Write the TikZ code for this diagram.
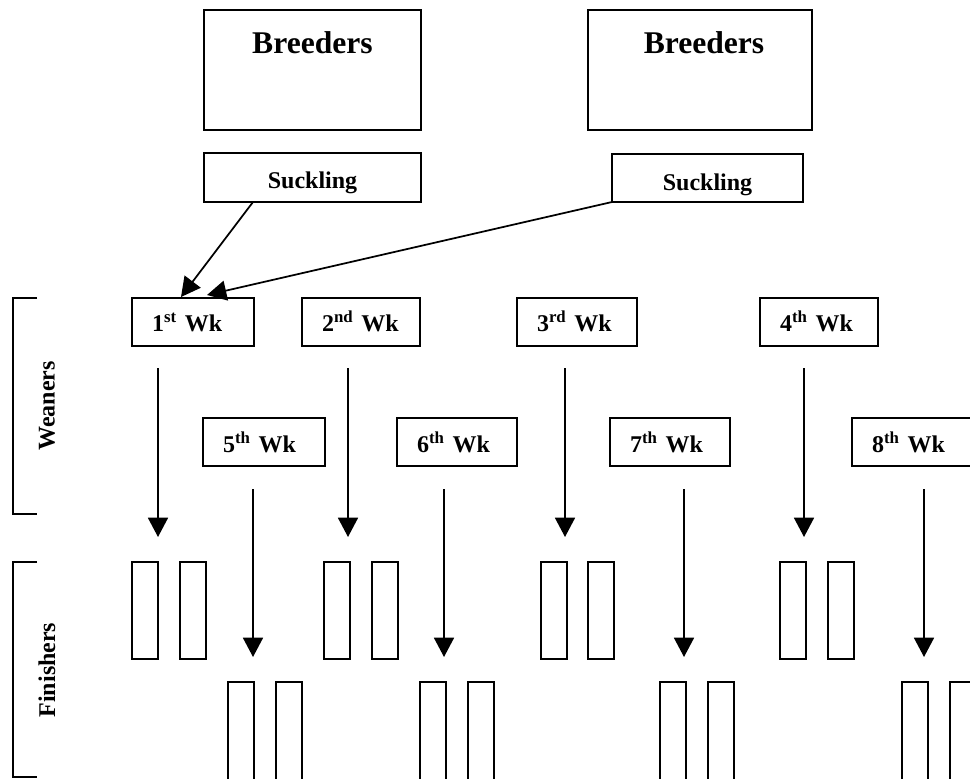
\documentclass[tikz,border=0pt]{standalone}
\usepackage{fontspec}
\setmainfont{Liberation Serif}
\usetikzlibrary{arrows.meta,calc}
\tikzset{
  pen/.style={draw, line width=1.3pt},
  box/.style={pen, inner sep=0pt, outer sep=0pt, anchor=north west, font=\fontsize{18}{20}\selectfont\bfseries},
  brbox/.style={box, text width=162.75pt, align=center, text height=32.25pt, text depth=57.75pt, font=\fontsize{23.7}{28}\selectfont\bfseries},
  wkone/.style={box, inner xsep=15pt, align=left, text height=24.75pt, text depth=11.25pt},
  wktwo/.style={box, inner xsep=15pt, align=left, text height=25.5pt, text depth=10.5pt},
  pen box/.style={pen, inner sep=0pt, outer sep=0pt, anchor=north west, minimum width=19.5pt},
  penone/.style={pen box, minimum height=72.75pt},
  pentwo/.style={pen box, minimum height=81pt},
  arr/.style={line width=1.3pt, -{Triangle[width=15pt,length=14.5pt]}},
  lab/.style={font=\fontsize{18}{20}\selectfont\bfseries, inner sep=0pt, rotate=90}
}
\begin{document}
\begin{tikzpicture}[x=0.75pt, y=-0.75pt]
\useasboundingbox (0,0) rectangle (970,778);
\clip (0,0) rectangle (970,778);
% breeders
\node[brbox] (b1) at (204,10) {Breeders};
\node[brbox, text width=168pt] (b2) at (588,10) {\hspace*{6pt}Breeders};
% suckling
\node[box, text width=162.75pt, align=center, text height=26.25pt, text depth=10.5pt] (s1) at (204,153) {Suckling};
\node[box, text width=143.25pt, align=center, text height=27pt, text depth=9pt] (s2) at (612,154) {Suckling};
% weeks row 1
\node[wkone, text width=61.5pt] (w1) at (132,298) {1\textsuperscript{st} Wk};
\node[wkone, text width=58.5pt] (w2) at (302,298) {2\textsuperscript{nd} Wk};
\node[wkone, text width=60pt] (w3) at (517,298) {3\textsuperscript{rd} Wk};
\node[wkone, text width=58.5pt] (w4) at (760,298) {4\textsuperscript{th} Wk};
% weeks row 2
\node[wktwo, text width=61.5pt] (w5) at (203,418) {5\textsuperscript{th} Wk};
\node[wktwo, text width=60pt] (w6) at (397,418) {6\textsuperscript{th} Wk};
\node[wktwo, text width=60pt] (w7) at (610,418) {7\textsuperscript{th} Wk};
\node[wktwo, text width=67.5pt] (w8) at (852,418) {8\textsuperscript{th} Wk};
% finisher pens row 1
\node[penone] (f1a) at (132,562) {};
\node[penone] (f1b) at (180,562) {};
\node[penone] (f2a) at (324,562) {};
\node[penone] (f2b) at (372,562) {};
\node[penone] (f3a) at (541,562) {};
\node[penone] (f3b) at (588,562) {};
\node[penone] (f4a) at (780,562) {};
\node[penone] (f4b) at (828,562) {};
% finisher pens row 2
\node[pentwo] (f5a) at (228,682) {};
\node[pentwo] (f5b) at (276,682) {};
\node[pentwo] (f6a) at (420,682) {};
\node[pentwo] (f6b) at (468,682) {};
\node[pentwo] (f7a) at (660,682) {};
\node[pentwo] (f7b) at (708,682) {};
\node[pentwo] (f8a) at (902,682) {};
\node[pentwo] (f8b) at (950,682) {};
% suckling arrows
\draw[arr] ($(s1.south west)+(49,0)$) -- ($(w1.north west)+(49,-1)$);
\draw[arr] (s2.south west) -- ($(w1.north west)+(75,-3)$);
% vertical arrows
\draw[arr] ($(w1.south west)+(26,22)$) -- ($(f1a.north east)+(0,-25)$);
\draw[arr] ($(w2.south west)+(46,22)$) -- ($(f2a.north east)+(-2,-25)$);
\draw[arr] ($(w3.south west)+(48,22)$) -- ($(f3a.north east)+(-2,-25)$);
\draw[arr] ($(w4.south west)+(44,22)$) -- ($(f4a.north east)+(-2,-25)$);
\draw[arr] ($(w5.south west)+(50,23)$) -- ($(f5a.north east)+(-1,-25)$);
\draw[arr] ($(w6.south west)+(47,23)$) -- ($(f6a.north east)+(-2,-25)$);
\draw[arr] ($(w7.south west)+(74,23)$) -- ($(f7a.north east)+(-2,-25)$);
\draw[arr] ($(w8.south west)+(72,23)$) -- ($(f8a.north east)+(-4,-25)$);
% brackets and labels
\draw[pen] (37,298) -- (13,298) -- (13,514) -- (37,514);
\draw[pen] (37,562) -- (13,562) -- (13,777) -- (37,777);
\node[lab] (wean) at (47,406) {Weaners};
\node[lab] (fin) at (47,670) {Finishers};
\end{tikzpicture}
\end{document}
